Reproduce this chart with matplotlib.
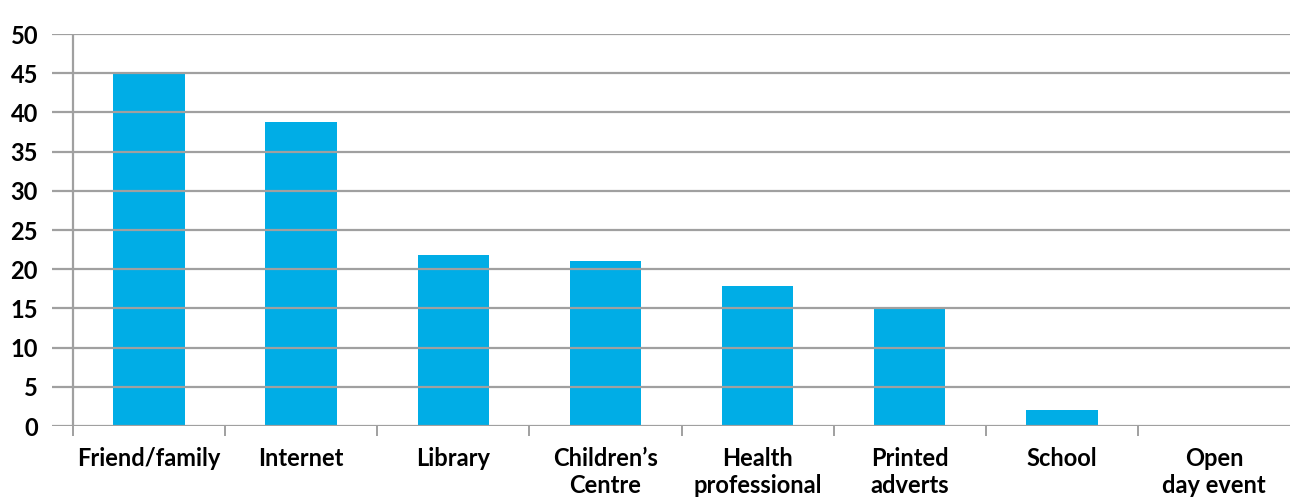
import matplotlib
matplotlib.use("Agg")
import matplotlib.pyplot as plt
import numpy as np

# Sources of information
categories = ["Friend/family", "Internet", "Library", "Children\u2019s\nCentre",
              "Health\nprofessional", "Printed\nadverts", "School", "Open\nday event"]
values = [45, 38.8, 21.8, 21, 17.9, 14.9, 2, 0]
y_ticks = [0, 5, 10, 15, 20, 25, 30, 35, 40, 45, 50]

plt.rcParams['font.family'] = ['Lato', 'DejaVu Sans']

W, H = 1290, 499
fig = plt.figure(figsize=(W / 100, H / 100), dpi=100)
left_px, right_px, top_px, bottom_px = 52, 1290, 34, 426
ax = fig.add_axes([left_px / W, (H - bottom_px) / H,
                   (right_px - left_px) / W, (bottom_px - top_px) / H])

bar_color = "#00ADE6"
grid_color = "#A0A0A0"
x = np.arange(len(categories))
ax.bar(x, values, width=0.47, color=bar_color, zorder=1)

ax.set_ylim(0, 50)
cat_step_px = 152
ax.set_xlim(-0.5 - 21 / cat_step_px, len(categories) - 0.5)

for s in ax.spines.values():
    s.set_visible(False)

# horizontal grid drawn over the bars
ax.set_yticks(y_ticks)
ax.yaxis.grid(True, color=grid_color, linewidth=1.6, zorder=3)
ax.set_axisbelow(False)
ax.tick_params(axis='y', length=0, pad=10, labelsize=17, labelcolor='black')
for lbl in ax.get_yticklabels():
    lbl.set_fontweight('bold')

# vertical axis line at the first category boundary
ax.axvline(-0.5, color=grid_color, linewidth=1.6, zorder=3)

# category labels at centres, boundary ticks as minor ticks
ax.set_xticks(x)
ax.set_xticklabels(categories, fontsize=17, fontweight='bold', linespacing=1.22)
ax.tick_params(axis='x', which='major', length=0, pad=15)
ax.set_xticks(np.arange(-0.5, len(categories) - 0.5, 1.0), minor=True)
ax.tick_params(axis='x', which='minor', length=7.5, width=1.4, color=grid_color,
               direction='out')

fig.savefig("out.png", dpi=100)
